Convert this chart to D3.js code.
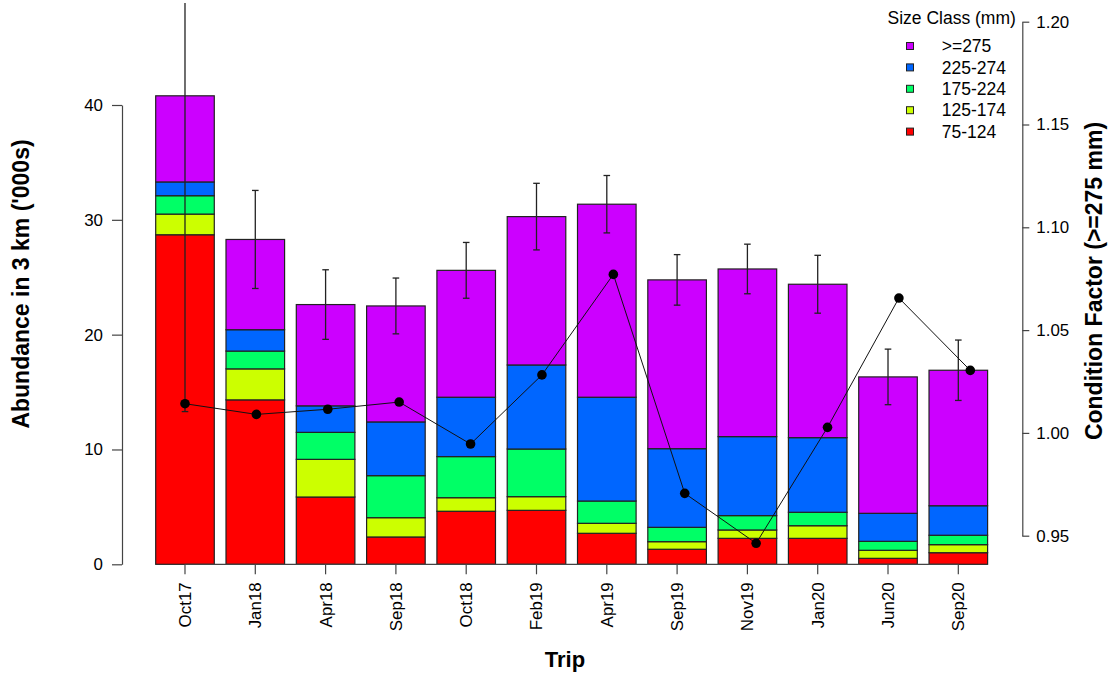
<!DOCTYPE html>
<html><head><meta charset="utf-8">
<script src="https://cdn.jsdelivr.net/npm/d3@7"></script>
<style>html,body{margin:0;padding:0;background:#fff;}svg{display:block;font-family:"Liberation Sans",Arial,sans-serif;}</style>
</head><body><div id="chart"></div>
<script>
const trips = ["Oct17","Jan18","Apr18","Sep18","Oct18","Feb19","Apr19","Sep19","Nov19","Jan20","Jun20","Sep20"];
const classes = ["75-124","125-174","175-224","225-274",">=275"];
const classColors = ["#FF0000","#CCFF00","#00FF66","#0066FF","#CC00FF"];
const s75  = [28.7, 14.32, 5.86, 2.38, 4.62, 4.70, 2.70, 1.31, 2.26, 2.26, 0.52, 1.01];
const s125 = [1.8, 2.7, 3.28, 1.68, 1.18, 1.19, 0.87, 0.66, 0.73, 1.1, 0.7, 0.7];
const s175 = [1.6, 1.55, 2.35, 3.66, 3.58, 4.15, 1.94, 1.25, 1.25, 1.17, 0.78, 0.82];
const s225 = [1.2, 1.86, 2.31, 4.68, 5.17, 7.32, 9.04, 6.85, 6.88, 6.5, 2.44, 2.57];
const s275 = [7.5, 7.86, 8.82, 10.1, 11.05, 12.92, 16.81, 14.7, 14.6, 13.36, 11.88, 11.8];
const abundanceSE = [27.5, 4.27, 3.03, 2.43, 2.43, 2.9, 2.5, 2.2, 2.16, 2.52, 2.42, 2.63];
const condition = [1.0142, 1.009, 1.0115, 1.015, 0.9946, 1.0282, 1.0771, 0.9706, 0.9463, 1.0027, 1.0656, 1.0304];
const leftTicks = [0, 10, 20, 30, 40];
const rightTicks = [0.95, 1.00, 1.05, 1.10, 1.15, 1.20];

const W = 1109, H = 674;
const svg = d3.select("#chart").append("svg").attr("width", W).attr("height", H);
const FS = 16.9;

const x = d3.scaleBand().domain(trips).range([155.7, 987.6]).paddingInner(1/6).paddingOuter(0);
const y = d3.scaleLinear().domain([0, 40]).range([564.3, 105]);
const xPt = d3.scaleLinear().domain([0, trips.length - 1]).range([185, 970.3]);
const yR = d3.scaleLinear().domain([0.95, 1.20]).range([535.7, 21.7]);

svg.append("defs").append("clipPath").attr("id", "plotclip")
  .append("rect").attr("x", 0).attr("y", 3).attr("width", W).attr("height", 600);

const rows = trips.map((t, i) => ({trip: t, "75-124": s75[i], "125-174": s125[i], "175-224": s175[i], "225-274": s225[i], ">=275": s275[i]}));
const stacked = d3.stack().keys(classes)(rows);

const gBars = svg.append("g");
stacked.forEach((layer, li) => {
  gBars.append("g").selectAll("rect").data(layer).join("rect")
    .attr("x", d => x(d.data.trip))
    .attr("width", x.bandwidth())
    .attr("y", d => y(d[1]))
    .attr("height", d => y(d[0]) - y(d[1]))
    .attr("fill", classColors[li])
    .attr("stroke", "#222").attr("stroke-width", 1.2);
});

// error bars
const totals = rows.map(r => classes.reduce((a, k) => a + r[k], 0));
const gErr = svg.append("g").attr("clip-path", "url(#plotclip)").attr("stroke", "#222").attr("stroke-width", 1.3);
trips.forEach((t, i) => {
  const cx = x(t) + x.bandwidth() / 2;
  const lo = totals[i] - abundanceSE[i], hi = totals[i] + abundanceSE[i];
  gErr.append("line").attr("x1", cx).attr("x2", cx).attr("y1", y(lo)).attr("y2", y(hi));
  gErr.append("line").attr("x1", cx - 3.3).attr("x2", cx + 3.3).attr("y1", y(lo)).attr("y2", y(lo));
  gErr.append("line").attr("x1", cx - 3.3).attr("x2", cx + 3.3).attr("y1", y(hi)).attr("y2", y(hi));
});

// x axis
const xAxis = d3.axisBottom(x).tickSize(10).tickSizeOuter(0).tickPadding(6);
const gx = svg.append("g").attr("transform", "translate(0,564.3)").call(xAxis);
gx.select(".domain").remove();
gx.append("line").attr("x1", x(trips[0]) + x.bandwidth()/2).attr("x2", x(trips[trips.length-1]) + x.bandwidth()/2)
  .attr("y1", 0).attr("y2", 0).attr("stroke", "#444").attr("stroke-width", 1.2);
gx.selectAll(".tick line").attr("stroke", "#444").attr("stroke-width", 1.2);
gx.selectAll(".tick text").attr("font-size", FS).attr("fill", "#000")
  .attr("transform", "rotate(-90)").attr("text-anchor", "end")
  .attr("dy", "0.35em").attr("x", -18).attr("y", 0);

// left axis
const gl = svg.append("g").attr("transform", "translate(122,0)")
  .call(d3.axisLeft(y).tickValues(leftTicks).tickSize(10).tickSizeOuter(0).tickPadding(9).tickFormat(d3.format("d")));
gl.select(".domain").attr("stroke", "#444").attr("stroke-width", 1.2);
gl.selectAll(".tick line").attr("stroke", "#444").attr("stroke-width", 1.2);
gl.selectAll(".tick text").attr("font-size", FS).attr("fill", "#000");

// condition line
const line = d3.line().x((d, i) => xPt(i)).y(d => yR(d));
svg.append("path").datum(condition).attr("d", line).attr("fill", "none").attr("stroke", "#111").attr("stroke-width", 1);
svg.append("g").selectAll("circle").data(condition).join("circle")
  .attr("cx", (d, i) => xPt(i)).attr("cy", d => yR(d)).attr("r", 4.8).attr("fill", "#000");

// right axis
const gr = svg.append("g").attr("transform", "translate(1022.3,0)")
  .call(d3.axisRight(yR).tickValues(rightTicks).tickSize(7).tickSizeOuter(0).tickPadding(7).tickFormat(d3.format(".2f")));
gr.select(".domain").attr("stroke", "#444").attr("stroke-width", 1.2);
gr.selectAll(".tick line").attr("stroke", "#444").attr("stroke-width", 1.2);
gr.selectAll(".tick text").attr("font-size", FS).attr("fill", "#000");

// axis titles
svg.append("text").attr("transform", "translate(29,284) rotate(-90)").attr("text-anchor", "middle")
  .attr("font-size", 23).attr("font-weight", "bold").text("Abundance in 3 km ('000s)");
svg.append("text").attr("transform", "translate(1102,281) rotate(-90)").attr("text-anchor", "middle")
  .attr("font-size", 23).attr("font-weight", "bold").text("Condition Factor (>=275 mm)");
svg.append("text").attr("x", 565).attr("y", 667).attr("text-anchor", "middle")
  .attr("font-size", 22).attr("font-weight", "bold").text("Trip");

// legend
const lg = svg.append("g");
lg.append("text").attr("x", 951.7).attr("y", 24).attr("text-anchor", "middle").attr("font-size", 17.5).text("Size Class (mm)");
const legendOrder = [4, 3, 2, 1, 0];
legendOrder.forEach((ci, k) => {
  const cy = 46 + k * 21.4;
  lg.append("rect").attr("x", 906.5).attr("y", cy - 3.5).attr("width", 7).attr("height", 7)
    .attr("fill", classColors[ci]).attr("stroke", "#222").attr("stroke-width", 1);
  lg.append("text").attr("x", 941.7).attr("y", cy).attr("dy", "0.35em").attr("font-size", 17.5).text(classes[ci]);
});
</script></body></html>
